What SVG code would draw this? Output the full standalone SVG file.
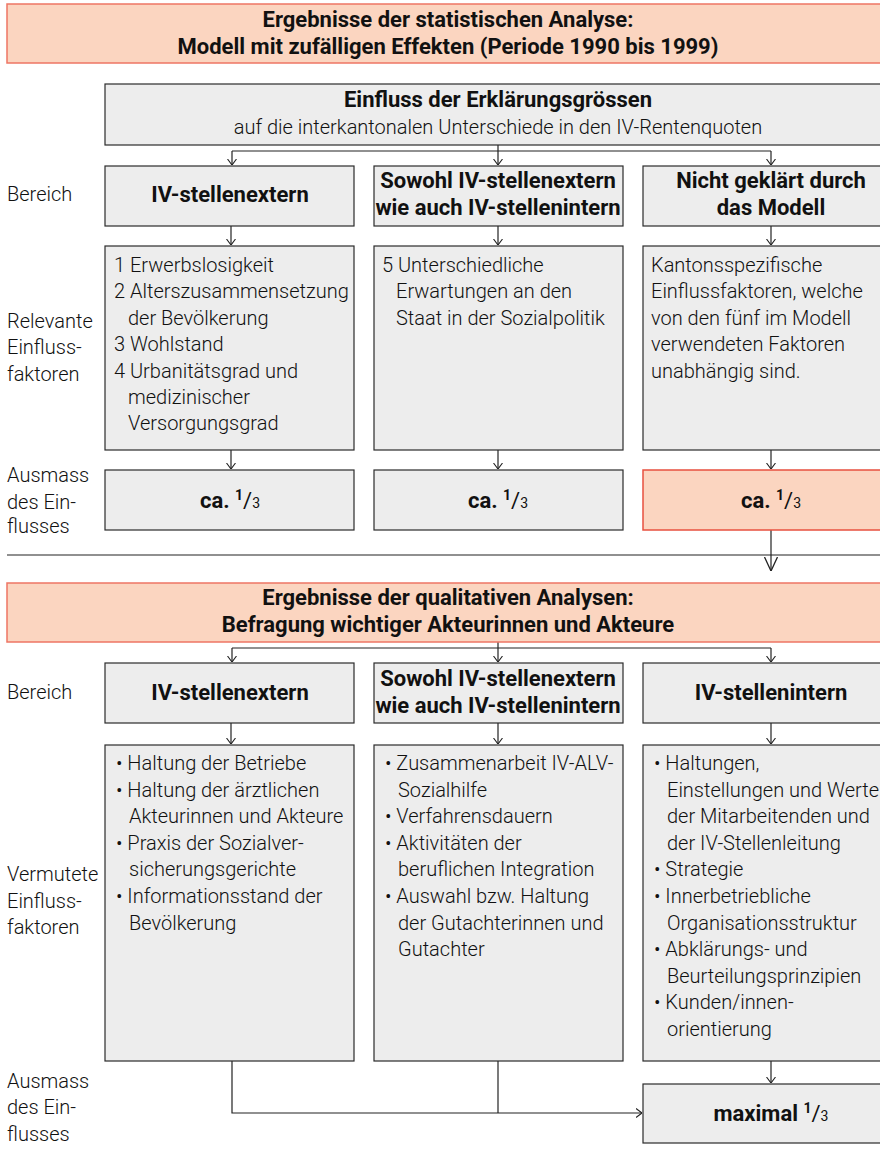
<svg xmlns="http://www.w3.org/2000/svg" width="880" height="1154" viewBox="0 0 880 1154">
<defs>
<style>
.box{fill:#EDEDED;stroke:#2b2b2b;stroke-width:1.2}
.hdr{fill:#FBD5C0;stroke:#EE7564;stroke-width:1.5}
.red{fill:#FBD5C0;stroke:#E8503F;stroke-width:1.5}
.b{font-family:Roboto,"Liberation Sans",sans-serif;font-weight:700;font-size:22px;fill:#111}
.t{font-family:Roboto,"Liberation Sans",sans-serif;font-weight:300;font-size:20px;fill:#111}
.c{text-anchor:middle}
.ln{fill:none;stroke:#222;stroke-width:1.2}
</style>
<marker id="ah" viewBox="0 0 6 10" refX="6" refY="5" markerWidth="6" markerHeight="10" markerUnits="userSpaceOnUse" orient="auto">
<path d="M0,0.5 L6,5 L0,9.5" fill="none" stroke="#222" stroke-width="1.1"/>
</marker>
<marker id="ahb" viewBox="0 0 14 14" refX="14" refY="7" markerWidth="14" markerHeight="14" markerUnits="userSpaceOnUse" orient="auto">
<path d="M0,0.5 L14,7 L0,13.5" fill="none" stroke="#222" stroke-width="1.3"/>
</marker>
</defs>
<rect width="880" height="1154" fill="#fff"/>

<g id="connectors" class="ln">
<line x1="232" y1="151" x2="771" y2="151"/>
<line x1="232" y1="151" x2="232" y2="165" marker-end="url(#ah)"/>
<line x1="498" y1="145" x2="498" y2="165" marker-end="url(#ah)"/>
<line x1="771" y1="151" x2="771" y2="165" marker-end="url(#ah)"/>
<line x1="231" y1="226" x2="231" y2="245" marker-end="url(#ah)"/>
<line x1="498" y1="226" x2="498" y2="245" marker-end="url(#ah)"/>
<line x1="771" y1="226" x2="771" y2="245" marker-end="url(#ah)"/>
<line x1="231" y1="450" x2="231" y2="469" marker-end="url(#ah)"/>
<line x1="498" y1="450" x2="498" y2="469" marker-end="url(#ah)"/>
<line x1="771" y1="450" x2="771" y2="469" marker-end="url(#ah)"/>
<line x1="7" y1="555" x2="880" y2="555"/>
<line x1="771" y1="520" x2="771" y2="571" marker-end="url(#ahb)"/>
<line x1="232" y1="648" x2="771" y2="648"/>
<line x1="232" y1="648" x2="232" y2="662" marker-end="url(#ah)"/>
<line x1="498" y1="642" x2="498" y2="662" marker-end="url(#ah)"/>
<line x1="771" y1="648" x2="771" y2="662" marker-end="url(#ah)"/>
<line x1="231" y1="723" x2="231" y2="744" marker-end="url(#ah)"/>
<line x1="498" y1="723" x2="498" y2="744" marker-end="url(#ah)"/>
<line x1="771" y1="723" x2="771" y2="744" marker-end="url(#ah)"/>
<line x1="771" y1="1061" x2="771" y2="1083" marker-end="url(#ah)"/>
<polyline points="232,1061 232,1113 642,1113" marker-end="url(#ah)"/>
<line x1="498" y1="1061" x2="498" y2="1113"/>
</g>

<g id="labels" class="t">
<text x="7" y="201">Bereich</text>
<text x="7" y="328">Relevante</text>
<text x="7" y="354">Einfluss-</text>
<text x="7" y="381">faktoren</text>
<text x="7" y="482">Ausmass</text>
<text x="7" y="509">des Ein-</text>
<text x="7" y="533">flusses</text>
<text x="7" y="699">Bereich</text>
<text x="7" y="881">Vermutete</text>
<text x="7" y="908">Einfluss-</text>
<text x="7" y="934">faktoren</text>
<text x="7" y="1088">Ausmass</text>
<text x="7" y="1114">des Ein-</text>
<text x="7" y="1141">flusses</text>
</g>

<g id="header1">
<rect class="hdr" x="7" y="4" width="890" height="59"/>
<text class="b c" x="448" y="27">Ergebnisse der statistischen Analyse:</text>
<text class="b c" x="448" y="54">Modell mit zufälligen Effekten (Periode 1990 bis 1999)</text>
</g>

<g id="einfluss">
<rect class="box" x="105" y="84" width="790" height="61"/>
<text class="b c" x="498" y="107">Einfluss der Erklärungsgrössen</text>
<text class="t c" x="498" y="134">auf die interkantonalen Unterschiede in den IV-Rentenquoten</text>
</g>

<g id="s-bereich1">
<rect class="box" x="105" y="166" width="249" height="60"/>
<text class="b c" x="230" y="202">IV-stellenextern</text>
</g>
<g id="s-bereich2">
<rect class="box" x="374" y="166" width="249" height="60"/>
<text class="b c" x="498" y="188">Sowohl IV-stellenextern</text>
<text class="b c" x="498" y="215">wie auch IV-stellenintern</text>
</g>
<g id="s-bereich3">
<rect class="box" x="643" y="166" width="250" height="60"/>
<text class="b c" x="771" y="188">Nicht geklärt durch</text>
<text class="b c" x="771" y="215">das Modell</text>
</g>

<g id="s-faktoren1" class="t">
<rect class="box" x="105" y="246" width="249" height="204"/>
<text x="114" y="272">1 Erwerbslosigkeit</text>
<text x="114" y="298">2 Alterszusammensetzung</text>
<text x="128" y="325">der Bevölkerung</text>
<text x="114" y="351">3 Wohlstand</text>
<text x="114" y="378">4 Urbanitätsgrad und</text>
<text x="128" y="404">medizinischer</text>
<text x="128" y="430">Versorgungsgrad</text>
</g>
<g id="s-faktoren2" class="t">
<rect class="box" x="374" y="246" width="249" height="204"/>
<text x="382" y="272">5 Unterschiedliche</text>
<text x="396" y="298">Erwartungen an den</text>
<text x="396" y="325">Staat in der Sozialpolitik</text>
</g>
<g id="s-faktoren3" class="t">
<rect class="box" x="643" y="246" width="250" height="204"/>
<text x="651" y="272">Kantonsspezifische</text>
<text x="651" y="298">Einflussfaktoren, welche</text>
<text x="651" y="325">von den fünf im Modell</text>
<text x="651" y="351">verwendeten Faktoren</text>
<text x="651" y="378">unabhängig sind.</text>
</g>

<g id="s-ausmass1">
<rect class="box" x="105" y="470" width="249" height="60"/>
<text class="b c" x="230" y="508">ca. <tspan font-size="14" dy="-8">1</tspan><tspan dy="8" font-weight="400">/</tspan><tspan font-size="14" font-weight="400">3</tspan></text>
</g>
<g id="s-ausmass2">
<rect class="box" x="374" y="470" width="249" height="60"/>
<text class="b c" x="498" y="508">ca. <tspan font-size="14" dy="-8">1</tspan><tspan dy="8" font-weight="400">/</tspan><tspan font-size="14" font-weight="400">3</tspan></text>
</g>
<g id="s-ausmass3">
<rect class="red" x="643" y="470" width="250" height="60"/>
<text class="b c" x="771" y="508">ca. <tspan font-size="14" dy="-8">1</tspan><tspan dy="8" font-weight="400">/</tspan><tspan font-size="14" font-weight="400">3</tspan></text>
</g>

<g id="header2">
<rect class="hdr" x="7" y="583" width="890" height="59"/>
<text class="b c" x="448" y="605">Ergebnisse der qualitativen Analysen:</text>
<text class="b c" x="448" y="632">Befragung wichtiger Akteurinnen und Akteure</text>
</g>

<g id="q-bereich1">
<rect class="box" x="105" y="663" width="249" height="60"/>
<text class="b c" x="230" y="700">IV-stellenextern</text>
</g>
<g id="q-bereich2">
<rect class="box" x="374" y="663" width="249" height="60"/>
<text class="b c" x="498" y="686">Sowohl IV-stellenextern</text>
<text class="b c" x="498" y="713">wie auch IV-stellenintern</text>
</g>
<g id="q-bereich3">
<rect class="box" x="643" y="663" width="250" height="60"/>
<text class="b c" x="771" y="700">IV-stellenintern</text>
</g>

<g id="q-faktoren1" class="t">
<rect class="box" x="105" y="745" width="249" height="316"/>
<text x="116" y="770">• Haltung der Betriebe</text>
<text x="116" y="796.6">• Haltung der ärztlichen</text>
<text x="129" y="823.2">Akteurinnen und Akteure</text>
<text x="116" y="849.8">• Praxis der Sozialver-</text>
<text x="129" y="876.4">sicherungsgerichte</text>
<text x="116" y="903">• Informationsstand der</text>
<text x="129" y="929.6">Bevölkerung</text>
</g>
<g id="q-faktoren2" class="t">
<rect class="box" x="374" y="745" width="249" height="316"/>
<text x="385" y="770">• Zusammenarbeit IV-ALV-</text>
<text x="398" y="796.6">Sozialhilfe</text>
<text x="385" y="823.2">• Verfahrensdauern</text>
<text x="385" y="849.8">• Aktivitäten der</text>
<text x="398" y="876.4">beruflichen Integration</text>
<text x="385" y="903">• Auswahl bzw. Haltung</text>
<text x="398" y="929.6">der Gutachterinnen und</text>
<text x="398" y="956.2">Gutachter</text>
</g>
<g id="q-faktoren3" class="t">
<rect class="box" x="643" y="745" width="250" height="316"/>
<text x="654" y="770">• Haltungen,</text>
<text x="667" y="796.6">Einstellungen und Werte</text>
<text x="667" y="823.2">der Mitarbeitenden und</text>
<text x="667" y="849.8">der IV-Stellenleitung</text>
<text x="654" y="876.4">• Strategie</text>
<text x="654" y="903">• Innerbetriebliche</text>
<text x="667" y="929.6">Organisationsstruktur</text>
<text x="654" y="956.2">• Abklärungs- und</text>
<text x="667" y="982.8">Beurteilungsprinzipien</text>
<text x="654" y="1009.4">• Kunden/innen-</text>
<text x="667" y="1036">orientierung</text>
</g>

<g id="q-ausmass3">
<rect class="box" x="643" y="1084" width="250" height="59"/>
<text class="b c" x="771" y="1121">maximal <tspan font-size="14" dy="-8">1</tspan><tspan dy="8" font-weight="400">/</tspan><tspan font-size="14" font-weight="400">3</tspan></text>
</g>
</svg>
